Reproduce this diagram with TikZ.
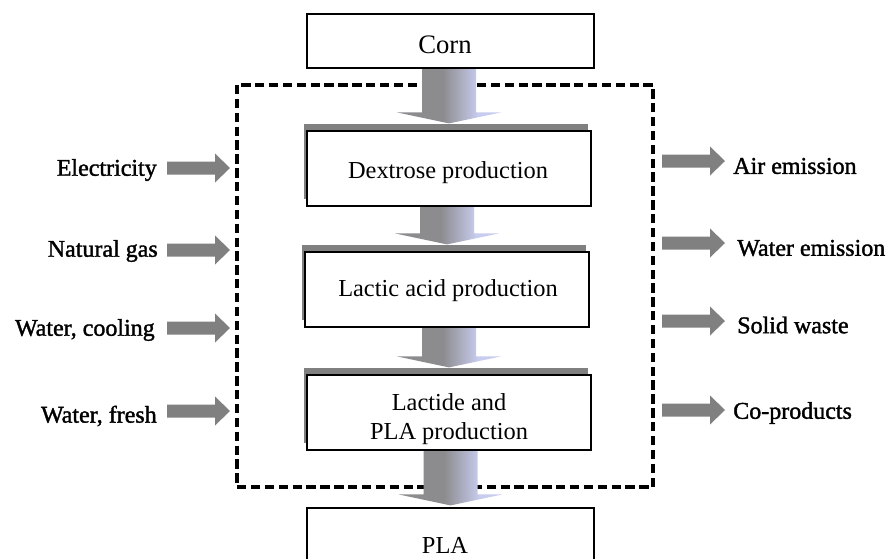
\documentclass[tikz,border=0pt]{standalone}
\usepackage{fontspec}
\setmainfont{Liberation Serif}
\newfontfamily\sidefont{Liberation Serif}[FakeBold=1.5]
\usetikzlibrary{calc,shadows,backgrounds}

\definecolor{arrowgray}{RGB}{128,128,128}
\definecolor{shadowgray}{RGB}{128,128,128}
\definecolor{flowgray}{RGB}{140,140,143}
\definecolor{flowlav}{RGB}{200,204,238}

% shaft of the flow arrows: flat grey on the left, turning lavender on the right
\pgfdeclarehorizontalshading{flowgrad}{100bp}{%
  color(0bp)=(flowgray); color(47bp)=(flowgray);
  color(64bp)=(flowlav); color(100bp)=(flowlav)}

% one pixel of the drawing grid
\newcommand\pxu{0.75pt}

\tikzset{
  stagebox/.style={draw=black, line width=0.9pt, fill=white,
    minimum width=284*\pxu, minimum height=75*\pxu,
    general shadow={fill=shadowgray, draw=none,
      shadow xshift=-3*\pxu, shadow yshift=7.5*\pxu}},
  endbox/.style={draw=black, line width=0.9pt, fill=white,
    minimum width=287*\pxu},
  boxtext/.style={align=center, inner sep=0pt,
    font=\fontsize{18.3}{21.8}\selectfont},
  sidelabel/.style={font=\sidefont\fontsize{18}{21.6}\selectfont, inner sep=0pt},
  flowshade/.style={shading=flowgrad, draw=none},
  boundary/.style={inner sep=0pt, outer sep=0pt,
    minimum width=416*\pxu, minimum height=402*\pxu},
  boundaryline/.style={draw=black, line width=2.7pt,
    dash pattern=on 7pt off 3.4pt}
}

% broad shaded arrow from one stage down to the next; #3 = gap above the target
\newcommand\flowarrow[3]{%
  \path[flowshade]
    ($(#1.south -| #2.north)+(-27,0)$) --
    ($(#1.south -| #2.north)+(27,0)$) --
    ($(#2.north)+(27,-#3-11)$) --
    ($(#2.north)+(52,-#3-11)$) --
    ($(#2.north)+(0,-#3)$) --
    ($(#2.north)+(-52,-#3-11)$) --
    ($(#2.north)+(-27,-#3-11)$) -- cycle;}

% solid arrow from an input label into the system boundary; #2 = vertical offset
\newcommand\inarrow[2]{%
  \fill[arrowgray] ($(#1.east -| frame.west)+(-70,#2-6.5)$) -- ++(48,0) -- ++(0,-8)
    -- ++(15,14.5) -- ++(-15,14.5) -- ++(0,-8) -- ++(-48,0) -- cycle;}

% solid arrow from the system boundary out to an output label; #2 = vertical offset
\newcommand\outarrow[2]{%
  \fill[arrowgray] ($(#1.west -| frame.east)+(9,#2-6.5)$) -- ++(48,0) -- ++(0,-8)
    -- ++(15,14.5) -- ++(-15,14.5) -- ++(0,-8) -- ++(-48,0) -- cycle;}

\begin{document}
\begin{tikzpicture}[x=0.75pt, y=-0.75pt]
  \clip (0,0) rectangle (892,558);

  % process chain
  \node[endbox, minimum height=54*\pxu] (corn) at (450.5,41) {};
  \node[boxtext, font=\fontsize{20}{24}\selectfont] (corntext) at (445,45) {Corn};
  \node[stagebox] (dextrose) at (449,168.5) {};
  \node[boxtext] (dextext) at (448,173) {Dextrose production};
  \node[stagebox] (lactic) at (447,289.5) {};
  \node[boxtext] (lactext) at (448,291) {Lactic acid production};
  \node[stagebox] (lactide) at (449,412.5) {};
  \node[boxtext] (plaprodtext) at (449,419.5) {Lactide and\\PLA production};
  \node[endbox, minimum height=70*\pxu] (pla) at (450.5,543) {};
  \node[boxtext] (platext) at (445,545) {PLA};

  % inputs
  \node[sidelabel, anchor=east] (elec) at (157,170) {Electricity};
  \node[sidelabel, anchor=east] (gas) at (158,251) {Natural gas};
  \node[sidelabel, anchor=east] (cool) at (155,330) {Water, cooling};
  \node[sidelabel, anchor=east] (fresh) at (157,416) {Water, fresh};

  % outputs
  \node[sidelabel, anchor=west] (air) at (733,166) {Air emission};
  \node[sidelabel, anchor=west] (wem) at (737,248) {Water emission};
  \node[sidelabel, anchor=west] (solid) at (737,325) {Solid waste};
  \node[sidelabel, anchor=west] (coprod) at (733,413) {Co-products};

  \begin{pgfonlayer}{background}
    \fill[white] (0,0) rectangle (892,558);
    % system boundary
    \node[boundary] (frame) at (445,286) {};
    \draw[boundaryline] (frame.north west) rectangle (frame.south east);
    \flowarrow{corn}{dextrose}{7}
    \flowarrow{dextrose}{lactic}{7}
    \flowarrow{lactic}{lactide}{7}
    \flowarrow{lactide}{pla}{2}
  \end{pgfonlayer}

  \inarrow{elec}{-2}
  \inarrow{gas}{-1}
  \inarrow{cool}{-2}
  \inarrow{fresh}{-5}
  \outarrow{air}{-5}
  \outarrow{wem}{-5}
  \outarrow{solid}{-4}
  \outarrow{coprod}{-3}
\end{tikzpicture}
\end{document}
